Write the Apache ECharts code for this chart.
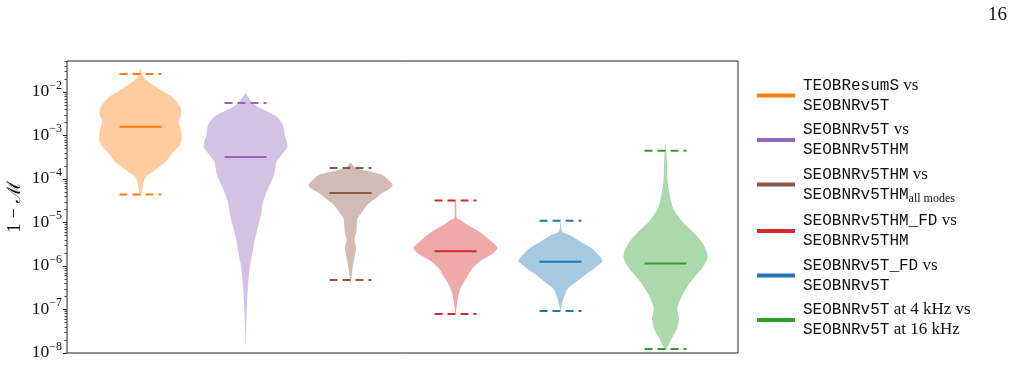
<!DOCTYPE html>
<html>
<head>
<meta charset="utf-8">
<script src="https://cdn.jsdelivr.net/npm/echarts@6/dist/echarts.min.js"></script>
<style>
html,body{margin:0;padding:0;background:#fff;}
#chart{width:1014px;height:366px;}
</style>
</head>
<body>
<div id="chart"></div>
<script>
// ---- data ----
const seriesNames = [
  'TEOBResumS vs SEOBNRv5T',
  'SEOBNRv5T vs SEOBNRv5THM',
  'SEOBNRv5THM vs SEOBNRv5THM_all modes',
  'SEOBNRv5THM_FD vs SEOBNRv5THM',
  'SEOBNRv5T_FD vs SEOBNRv5T',
  'SEOBNRv5T at 4 kHz vs SEOBNRv5T at 16 kHz'
];
const legendLabels = [
  '{t|TEOBResumS}{r| vs}\n{t|SEOBNRv5T}',
  '{t|SEOBNRv5T}{r| vs}\n{t|SEOBNRv5THM}',
  '{t|SEOBNRv5THM}{r| vs}\n{t|SEOBNRv5THM}{sub|all modes}',
  '{t|SEOBNRv5THM_FD}{r| vs}\n{t|SEOBNRv5THM}',
  '{t|SEOBNRv5T_FD}{r| vs}\n{t|SEOBNRv5T}',
  '{t|SEOBNRv5T}{r| at 4 kHz vs}\n{t|SEOBNRv5T}{r| at 16 kHz}'
];
const colors = ['#ff7f0e', '#9467bd', '#8c564b', '#d62728', '#1f77b4', '#2ca02c'];
const positions = [1, 2, 3, 4, 5, 6];
const medians = [1.6e-3, 3.2e-4, 4.8e-5, 2.2e-6, 1.26e-6, 1.15e-6];
const maxima = [2.6e-2, 5.6e-3, 1.8e-4, 3.2e-5, 1.1e-5, 4.5e-4];
const minima = [4.4e-5, null, 4.8e-7, 7.9e-8, 9.3e-8, 1.23e-8];
const majorTicks = [1e-8, 1e-7, 1e-6, 1e-5, 1e-4, 1e-3, 1e-2];

// violin outlines: [log10(1 - M), relative half width]
const violinOrange = [[-1.42,0],[-1.55,0.03],[-1.67,0.08],[-1.76,0.19],[-1.90,0.40],[-2.02,0.60],[-2.13,0.77],[-2.27,0.90],[-2.41,0.97],[-2.55,0.96],[-2.68,0.91],[-2.82,0.95],[-2.98,0.98],[-3.14,0.97],[-3.26,0.90],[-3.37,0.79],[-3.49,0.69],[-3.60,0.60],[-3.72,0.45],[-3.83,0.29],[-3.93,0.15],[-4.06,0.07],[-4.25,0.04],[-4.45,0]];
const violinPurple = [[-2.02,0],[-2.25,0.17],[-2.37,0.36],[-2.56,0.74],[-2.75,0.89],[-2.98,0.93],[-3.25,1.0],[-3.44,0.86],[-3.60,0.74],[-3.90,0.68],[-4.21,0.54],[-4.52,0.42],[-4.82,0.37],[-5.13,0.29],[-5.44,0.21],[-5.74,0.16],[-6.05,0.10],[-6.51,0.055],[-7.13,0.025],[-7.89,0]];
const violinBrown = [[-3.61,0],[-3.74,0.12],[-3.79,0.29],[-3.90,0.75],[-4.02,0.90],[-4.13,1.0],[-4.21,0.95],[-4.32,0.75],[-4.44,0.60],[-4.59,0.40],[-4.75,0.28],[-4.90,0.17],[-5.05,0.15],[-5.21,0.14],[-5.40,0.09],[-5.55,0.13],[-5.74,0.11],[-5.97,0.06],[-6.20,0.03],[-6.43,0]];
const violinRed = [[-4.49,0],[-4.52,0.02],[-4.90,0.03],[-4.94,0.12],[-5.05,0.28],[-5.21,0.57],[-5.40,0.81],[-5.58,1.0],[-5.71,0.89],[-5.90,0.57],[-6.05,0.40],[-6.21,0.30],[-6.36,0.20],[-6.51,0.12],[-6.67,0.07],[-6.90,0.03],[-7.13,0]];
const violinBlue = [[-4.96,0],[-5.21,0.04],[-5.28,0.21],[-5.44,0.48],[-5.59,0.74],[-5.74,0.90],[-5.88,1.0],[-6.05,0.81],[-6.21,0.57],[-6.36,0.38],[-6.51,0.18],[-6.67,0.10],[-6.82,0.05],[-7.01,0]];
const violinGreen = [[-3.17,0],[-3.44,0.025],[-4.06,0.05],[-4.36,0.10],[-4.67,0.18],[-4.98,0.40],[-5.21,0.65],[-5.44,0.86],[-5.67,0.98],[-5.82,1.0],[-6.05,0.87],[-6.36,0.60],[-6.67,0.40],[-6.97,0.28],[-7.20,0.32],[-7.43,0.28],[-7.66,0.15],[-7.82,0.07],[-7.93,0]];
const violins = [violinOrange, violinPurple, violinBrown, violinRed, violinBlue, violinGreen];

// ---- axis decoration: minor log ticks ----
const minorTicks = [];
for (let k = -8; k <= -2; k++) {
  for (let m = 2; m <= 9; m++) {
    const v = m * Math.pow(10, k);
    if (v < 0.052) minorTicks.push(v);
  }
}

const HALF = 0.4;   // max half width of a violin (x units)
const LINEHALF = 0.2;

function hexToRgba(hex, a) {
  const n = parseInt(hex.slice(1), 16);
  return 'rgba(' + ((n >> 16) & 255) + ',' + ((n >> 8) & 255) + ',' + (n & 255) + ',' + a + ')';
}

function renderViolin(params, api) {
  const i = params.seriesIndex;
  const pos = positions[i];
  const prof = violins[i];
  const right = prof.map(p => api.coord([pos + p[1] * HALF, Math.pow(10, p[0])]));
  const left = prof.slice().reverse().map(p => api.coord([pos - p[1] * HALF, Math.pow(10, p[0])]));
  const children = [{
    type: 'polygon',
    shape: { points: right.concat(left), smooth: 0.25 },
    style: { fill: hexToRgba(colors[i], 0.4), stroke: null }
  }];
  function hline(v, dashed) {
    const a = api.coord([pos - LINEHALF, v]);
    const b = api.coord([pos + LINEHALF, v]);
    children.push({
      type: 'line',
      shape: { x1: a[0], y1: a[1], x2: b[0], y2: b[1] },
      style: { stroke: colors[i], lineWidth: 2, lineDash: dashed ? [8, 5] : null }
    });
  }
  hline(medians[i], false);
  if (maxima[i] != null) hline(maxima[i], true);
  if (minima[i] != null) hline(minima[i], true);
  return { type: 'group', children: children };
}

const chart = echarts.init(document.getElementById('chart'), null, { renderer: 'canvas' });

const series = seriesNames.map((name, i) => ({
  type: 'custom',
  name: name,
  xAxisIndex: 0,
  yAxisIndex: 0,
  itemStyle: { color: colors[i] },
  renderItem: renderViolin,
  data: [[positions[i], medians[i]]],
  clip: true,
  silent: true
}));

const option = {
  animation: false,
  backgroundColor: '#fff',
  grid: {
    left: 67, top: 61, right: 276, bottom: 13,
    containLabel: false, outerBoundsMode: 'none',
    show: true, borderColor: '#222', borderWidth: 1, backgroundColor: 'transparent'
  },
  xAxis: {
    type: 'value', min: 0.3, max: 6.69,
    axisLine: { show: false }, axisTick: { show: false },
    axisLabel: { show: false }, splitLine: { show: false }
  },
  yAxis: [{
    type: 'log', logBase: 10, min: 1e-8, max: 0.052,
    axisLine: { show: false },
    splitLine: { show: false },
    axisTick: { show: true, customValues: majorTicks, length: 4, lineStyle: { color: '#222', width: 1 } },
    axisLabel: {
      customValues: majorTicks,
      margin: 5,
      formatter: function (v) {
        const e = Math.round(Math.log10(v));
        return '{b|10}{s|\u2212' + Math.abs(e) + '}';
      },
      rich: {
        b: { fontFamily: 'Liberation Serif', fontSize: 17.5, lineHeight: 17, color: '#111', verticalAlign: 'bottom' },
        s: { fontFamily: 'Liberation Serif', fontSize: 12, lineHeight: 11, color: '#111', verticalAlign: 'bottom', padding: [0, 0, 9, 0] }
      }
    },
    name: '1 \u2212 \u2133',
    nameLocation: 'middle',
    nameRotate: 90,
    nameGap: 42,
    nameMoveOverlap: false,
    nameTextStyle: { fontFamily: "'Liberation Serif', 'DejaVu Serif'", fontSize: 19, color: '#111' }
  }, {
    type: 'log', logBase: 10, min: 1e-8, max: 0.052, position: 'left',
    axisLine: { show: false }, splitLine: { show: false },
    axisLabel: { show: false },
    axisTick: { show: true, customValues: minorTicks, length: 2.5, lineStyle: { color: '#222', width: 0.8 } }
  }],
  legend: {
    orient: 'vertical',
    left: 752, top: 72,
    icon: 'rect',
    itemWidth: 38, itemHeight: 4,
    itemGap: 8,
    selectedMode: false,
    data: seriesNames,
    formatter: function (name) { return legendLabels[seriesNames.indexOf(name)]; },
    textStyle: {
      padding: [0, 0, 0, 3],
      rich: {
        t: { fontFamily: 'Liberation Mono', fontSize: 16, lineHeight: 20, color: '#111' },
        r: { fontFamily: 'Liberation Serif', fontSize: 17, lineHeight: 20, color: '#111' },
        sub: { fontFamily: 'Liberation Serif', fontSize: 12, lineHeight: 20, color: '#111', padding: [8, 0, 0, 0] }
      }
    }
  },
  graphic: [{
    type: 'text', right: 7, top: 6,
    style: { text: '16', fontFamily: 'Liberation Serif', fontSize: 19, fill: '#111' }
  }],
  series: series
};
chart.setOption(option);
</script>
</body>
</html>
